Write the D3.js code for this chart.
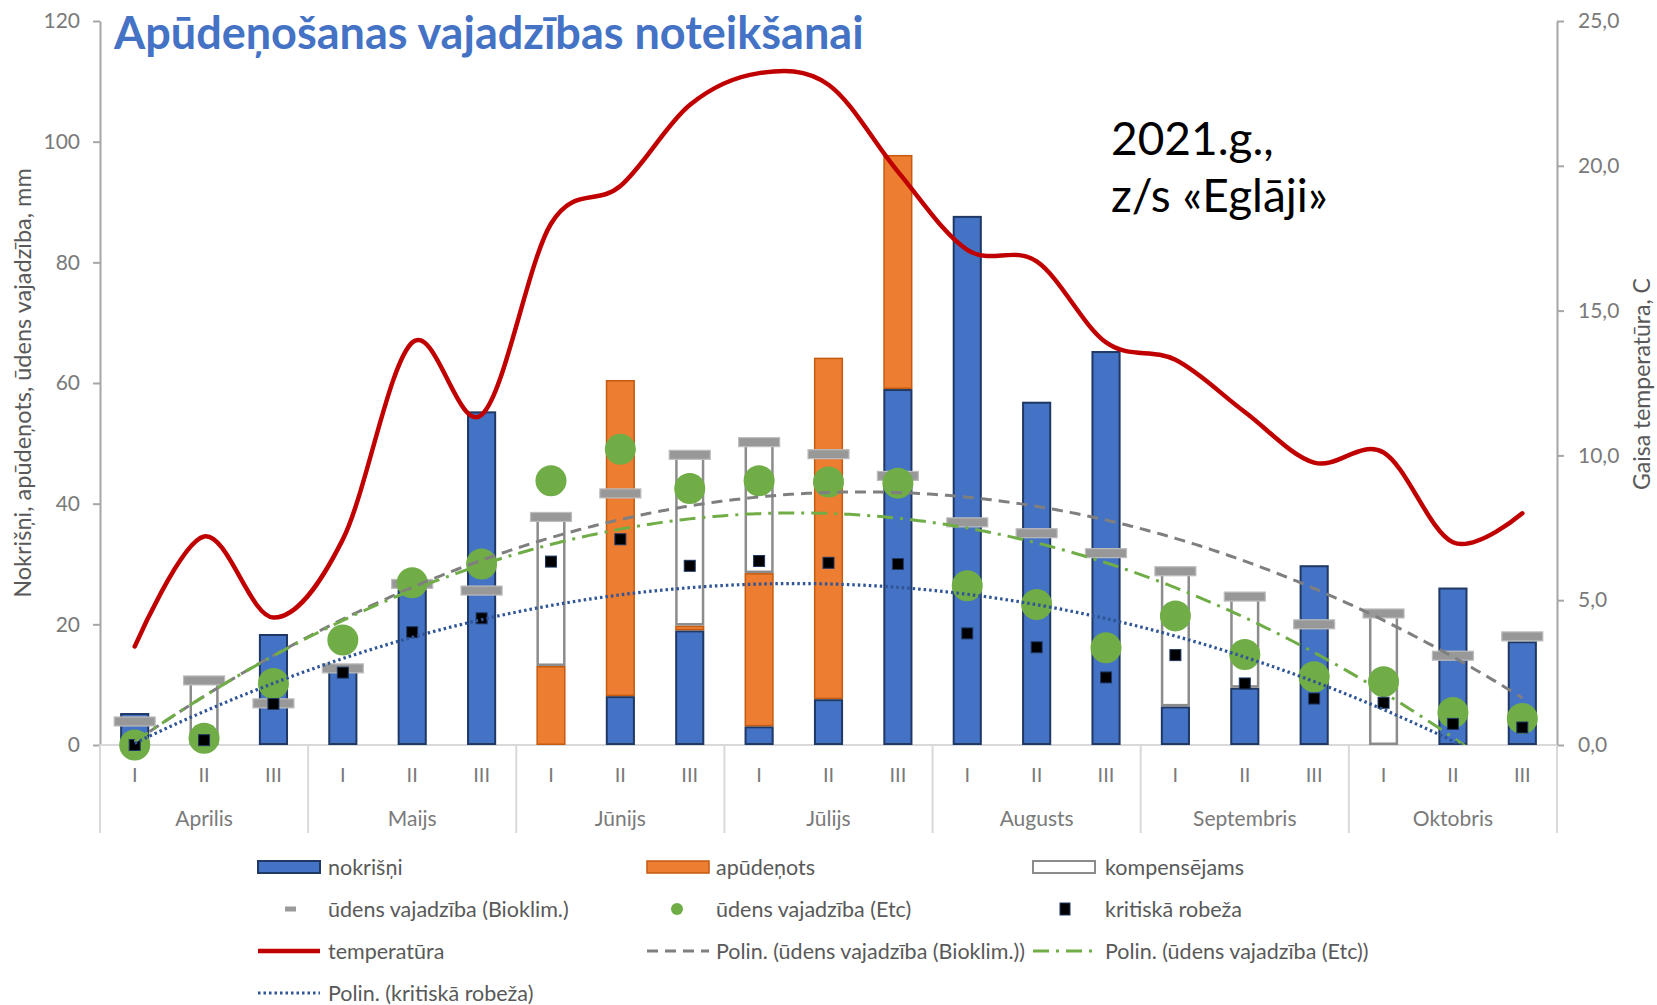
<!DOCTYPE html>
<html>
<head>
<meta charset="utf-8">
<script src="https://cdn.jsdelivr.net/npm/d3@7/dist/d3.min.js"></script>
<style>
  html, body { margin: 0; padding: 0; background: #fff; }
  svg { display: block; font-family: Lato, "Open Sans", sans-serif; }
</style>
</head>
<body>
<svg id="chart" width="1657" height="1005"></svg>
<script>
// ---------- DATA ----------
const months = ["Aprilis", "Maijs", "Jūnijs", "Jūlijs", "Augusts", "Septembris", "Oktobris"];
const decades = ["I", "II", "III"];
const categories = months.flatMap(m => decades.map(d => m + " " + d));

const nokrisni   = [5.3, 0, 18.4, 12.6, 25.8, 55.3, 0, 8.1, 19.0, 3.1, 7.6, 59.0, 87.7, 56.9, 65.3, 6.4, 9.5, 29.8, 0, 26.1, 17.2];
const apudenots  = [0, 0, 0, 0, 0, 0, 13.1, 52.4, 0.8, 25.4, 56.6, 38.8, 0, 0, 0, 0, 0, 0, 0, 0, 0];
const kompensejams = [0, 10.7, 0, 0, 0, 0, 24.7, 0, 28.3, 21.7, 0, 0, 0, 0, 0, 22.4, 15.1, 0, 21.8, 0, 0];
const bioklim    = [3.9, 10.7, 6.9, 12.7, 26.7, 25.6, 37.8, 41.7, 48.1, 50.2, 48.2, 44.6, 36.9, 35.1, 31.8, 28.8, 24.6, 20.0, 21.8, 14.8, 18.0];
const etc        = [0, 1.1, 10.2, 17.4, 26.9, 30.0, 43.8, 49.0, 42.5, 43.8, 43.6, 43.4, 26.4, 23.3, 16.1, 21.4, 15.0, 11.3, 10.5, 5.4, 4.4];
const kritiska   = [0, 0.8, 6.8, 12.0, 18.7, 21.0, 30.4, 34.1, 29.7, 30.5, 30.2, 30.0, 18.5, 16.2, 11.2, 14.9, 10.2, 7.7, 7.0, 3.5, 2.9];
const temperatura = [3.4, 7.2, 4.4, 7.1, 13.9, 11.4, 18.0, 19.3, 22.1, 23.2, 22.8, 19.8, 17.1, 16.7, 13.9, 13.3, 11.5, 9.75, 10.1, 7.0, 8.0];

const leftTicks = [0, 20, 40, 60, 80, 100, 120];
const rightTicks = [0, 5, 10, 15, 20, 25];
const rightTickLabels = ["0,0", "5,0", "10,0", "15,0", "20,0", "25,0"];

const titleText = "Apūdeņošanas vajadzības noteikšanai";
const noteLines = ["2021.g.,", "z/s «Eglāji»"];
const leftAxisTitle = "Nokrišņi, apūdeņots, ūdens vajadzība, mm";
const rightAxisTitle = "Gaisa temperatūra, C";

// ---------- SETUP ----------
const svg = d3.select("#chart");
const X0 = 100, X1 = 1557, Y0 = 745, YT = 21;
const idx = d3.range(categories.length);

const x = d3.scaleBand().domain(idx).range([X0, X1]).paddingInner(0.58).paddingOuter(0.29);
const cx = i => x(i) + x.bandwidth() / 2;
const step = x.step();
const yL = d3.scaleLinear().domain([0, 120]).range([Y0, YT]);
const yR = d3.scaleLinear().domain([0, 25]).range([Y0, YT]);

const C = {
  blue: "#4472C4", blueStroke: "#1F3864",
  orange: "#ED7D31", orangeStroke: "#C55A11",
  white: "#ffffff", whiteStroke: "#8c8c8c",
  green: "#70AD47", red: "#C00000",
  gray: "#a0a0a0", axisText: "#7a7a7a", title: "#595959"
};

svg.append("defs").append("clipPath").attr("id", "plotclip")
  .append("rect").attr("x", X0).attr("y", YT).attr("width", X1 - X0).attr("height", Y0 - YT);

// ---------- AXES ----------
const gl = svg.append("g").attr("transform", `translate(${X0},0)`)
  .call(d3.axisLeft(yL).tickValues(leftTicks).tickSize(7).tickPadding(13).tickSizeOuter(0));
gl.select(".domain").attr("stroke", "#a6a6a6").attr("stroke-width", 2);
gl.selectAll(".tick line").attr("stroke", "#a6a6a6").attr("stroke-width", 2);
gl.selectAll(".tick text").attr("fill", C.axisText).style("font-size", "21px").style("font-family", "Lato");

const gr = svg.append("g").attr("transform", `translate(${X1},0)`)
  .call(d3.axisRight(yR).tickValues(rightTicks).tickFormat((d, i) => rightTickLabels[i]).tickSize(7).tickPadding(14).tickSizeOuter(0));
gr.select(".domain").attr("stroke", "#a6a6a6").attr("stroke-width", 2);
gr.selectAll(".tick line").attr("stroke", "#a6a6a6").attr("stroke-width", 2);
gr.selectAll(".tick text").attr("fill", C.axisText).style("font-size", "21px").style("font-family", "Lato");

// category axis
const cat = svg.append("g");
cat.append("line").attr("x1", X0).attr("x2", X1).attr("y1", Y0).attr("y2", Y0)
  .attr("stroke", "#d9d9d9").attr("stroke-width", 2);
d3.range(months.length + 1).forEach(k => {
  const xx = X0 + k * 3 * step;
  cat.append("line").attr("x1", xx).attr("x2", xx).attr("y1", Y0).attr("y2", 833)
    .attr("stroke", "#d9d9d9").attr("stroke-width", 2);
});
cat.selectAll("text.dec").data(idx).join("text").attr("class", "dec")
  .attr("x", i => cx(i)).attr("y", 782).attr("text-anchor", "middle")
  .attr("fill", C.axisText).style("font-size", "20px").text(i => decades[i % 3]);
cat.selectAll("text.mon").data(months).join("text").attr("class", "mon")
  .attr("x", (m, k) => X0 + (k * 3 + 1.5) * step).attr("y", 826).attr("text-anchor", "middle")
  .attr("fill", C.axisText).style("font-size", "21px").text(m => m);

// axis titles
svg.append("text").attr("transform", `translate(31,383) rotate(-90)`).attr("text-anchor", "middle")
  .attr("fill", C.title).style("font-size", "23.5px").text(leftAxisTitle);
svg.append("text").attr("transform", `translate(1650,384) rotate(-90)`).attr("text-anchor", "middle")
  .attr("fill", C.title).style("font-size", "23px").text(rightAxisTitle);

// ---------- BARS ----------
const table = idx.map(i => ({ i, nokrisni: nokrisni[i], apudenots: apudenots[i], kompensejams: kompensejams[i] }));
const stack = d3.stack().keys(["nokrisni", "apudenots", "kompensejams"])(table);
const fills = { nokrisni: [C.blue, C.blueStroke, 2], apudenots: [C.orange, C.orangeStroke, 1.5], kompensejams: [C.white, C.whiteStroke, 2.5] };
const gb = svg.append("g");
stack.forEach(layer => {
  const [f, s, w] = fills[layer.key];
  gb.selectAll(null).data(layer.filter(d => d[1] - d[0] > 0)).join("rect")
    .attr("x", d => x(d.data.i) + w / 2)
    .attr("width", x.bandwidth() - w)
    .attr("y", d => yL(d[1]) + w / 2)
    .attr("height", d => Math.max(0, yL(d[0]) - yL(d[1]) - w))
    .attr("fill", f).attr("stroke", s).attr("stroke-width", w);
});

// ---------- MARKERS ----------
svg.append("g").selectAll("rect").data(idx).join("rect")
  .attr("x", i => cx(i) - 20.5).attr("y", i => yL(bioklim[i]) - 4.5)
  .attr("width", 41).attr("height", 9)
  .attr("fill", "#989898").attr("stroke", "#bdbdbd").attr("stroke-width", 1.2);

svg.append("g").selectAll("circle").data(idx).join("circle")
  .attr("cx", i => cx(i)).attr("cy", i => yL(etc[i])).attr("r", 15.5)
  .attr("fill", C.green);

svg.append("g").selectAll("rect").data(idx).join("rect")
  .attr("x", i => cx(i) - 5.5).attr("y", i => yL(kritiska[i]) - 5.5)
  .attr("width", 11).attr("height", 11)
  .attr("fill", "#000").attr("stroke", "#1F3864").attr("stroke-width", 1);

// ---------- TEMPERATURE ----------
svg.append("path").datum(idx)
  .attr("d", d3.line().x(i => cx(i)).y(i => yR(temperatura[i])).curve(d3.curveCatmullRom.alpha(0)))
  .attr("fill", "none").attr("stroke", C.red).attr("stroke-width", 4.5).attr("stroke-linecap", "round");

// ---------- POLYNOMIAL TRENDLINES (order 2 least squares, as Excel) ----------
function polyfit2(ys) {
  const n = ys.length;
  let s = [0, 0, 0, 0, 0], t = [0, 0, 0];
  ys.forEach((yv, k) => {
    const xv = k + 1;
    for (let p = 0; p <= 4; p++) s[p] += Math.pow(xv, p);
    for (let p = 0; p <= 2; p++) t[p] += yv * Math.pow(xv, p);
  });
  const A = [[s[0], s[1], s[2], t[0]], [s[1], s[2], s[3], t[1]], [s[2], s[3], s[4], t[2]]];
  for (let c = 0; c < 3; c++) {
    for (let r = c + 1; r < 3; r++) {
      const f = A[r][c] / A[c][c];
      for (let k = c; k < 4; k++) A[r][k] -= f * A[c][k];
    }
  }
  const b = [0, 0, 0];
  for (let r = 2; r >= 0; r--) {
    let v = A[r][3];
    for (let k = r + 1; k < 3; k++) v -= A[r][k] * b[k];
    b[r] = v / A[r][r];
  }
  return xv => b[0] + b[1] * xv + b[2] * xv * xv;
}
const samples = d3.range(0, categories.length - 1 + 0.001, 0.05);
const xcont = t => X0 + step * (0.5 + t);
function trend(ys, stroke, dash, width) {
  const f = polyfit2(ys);
  svg.append("path").datum(samples)
    .attr("clip-path", "url(#plotclip)")
    .attr("d", d3.line().x(t => xcont(t)).y(t => yL(f(t + 1))))
    .attr("fill", "none").attr("stroke", stroke).attr("stroke-width", width)
    .attr("stroke-dasharray", dash);
}
trend(bioklim, "#7f7f7f", "11,7", 3);
trend(etc, C.green, "16,7,3,7", 3);
trend(kritiska, "#2F5597", "2.5,3", 3.2);

// ---------- TITLE & NOTE ----------
svg.append("text").attr("x", 114).attr("y", 49).attr("fill", "#4472C4")
  .style("font-size", "45px").style("font-weight", "bold").text(titleText);
svg.append("text").attr("x", 1111).attr("y", 155).attr("fill", "#000").style("font-size", "46px").text(noteLines[0]);
svg.append("text").attr("x", 1111).attr("y", 212).attr("fill", "#000").style("font-size", "46px").text(noteLines[1]);

// ---------- LEGEND ----------
const lg = svg.append("g").style("font-size", "21.5px");
const rows = [867, 909, 951, 993];
const cols = [[258, 328], [647, 716], [1033, 1105]];
function ltext(c, r, s) {
  lg.append("text").attr("x", cols[c][1]).attr("y", rows[r]).attr("dy", "0.35em").attr("fill", C.title).text(s);
}
function lbar(c, r, f, s, w) {
  lg.append("rect").attr("x", cols[c][0]).attr("y", rows[r] - 6).attr("width", 62).attr("height", 12)
    .attr("fill", f).attr("stroke", s).attr("stroke-width", w);
}
function lline(c, r, stroke, dash, w) {
  lg.append("line").attr("x1", cols[c][0]).attr("x2", cols[c][0] + 62).attr("y1", rows[r]).attr("y2", rows[r])
    .attr("stroke", stroke).attr("stroke-width", w).attr("stroke-dasharray", dash);
}
lbar(0, 0, C.blue, C.blueStroke, 2); ltext(0, 0, "nokrišņi");
lbar(1, 0, C.orange, C.orangeStroke, 1.5); ltext(1, 0, "apūdeņots");
lbar(2, 0, C.white, C.whiteStroke, 2); ltext(2, 0, "kompensējams");
lg.append("rect").attr("x", 285).attr("y", rows[1] - 2.5).attr("width", 11).attr("height", 5).attr("fill", "#9a9a9a");
ltext(0, 1, "ūdens vajadzība (Bioklim.)");
lg.append("circle").attr("cx", 677).attr("cy", rows[1]).attr("r", 6).attr("fill", C.green);
ltext(1, 1, "ūdens vajadzība (Etc)");
lg.append("rect").attr("x", 1060).attr("y", rows[1] - 6).attr("width", 10).attr("height", 12).attr("fill", "#000").attr("stroke", "#1F3864");
ltext(2, 1, "kritiskā robeža");
lline(0, 2, C.red, null, 4.5); ltext(0, 2, "temperatūra");
lline(1, 2, "#7f7f7f", "11,7", 3); ltext(1, 2, "Polin. (ūdens vajadzība (Bioklim.))");
lline(2, 2, C.green, "16,7,3,7", 3); ltext(2, 2, "Polin. (ūdens vajadzība (Etc))");
lline(0, 3, "#2F5597", "2.5,3", 3); ltext(0, 3, "Polin. (kritiskā robeža)");
</script>
</body>
</html>
